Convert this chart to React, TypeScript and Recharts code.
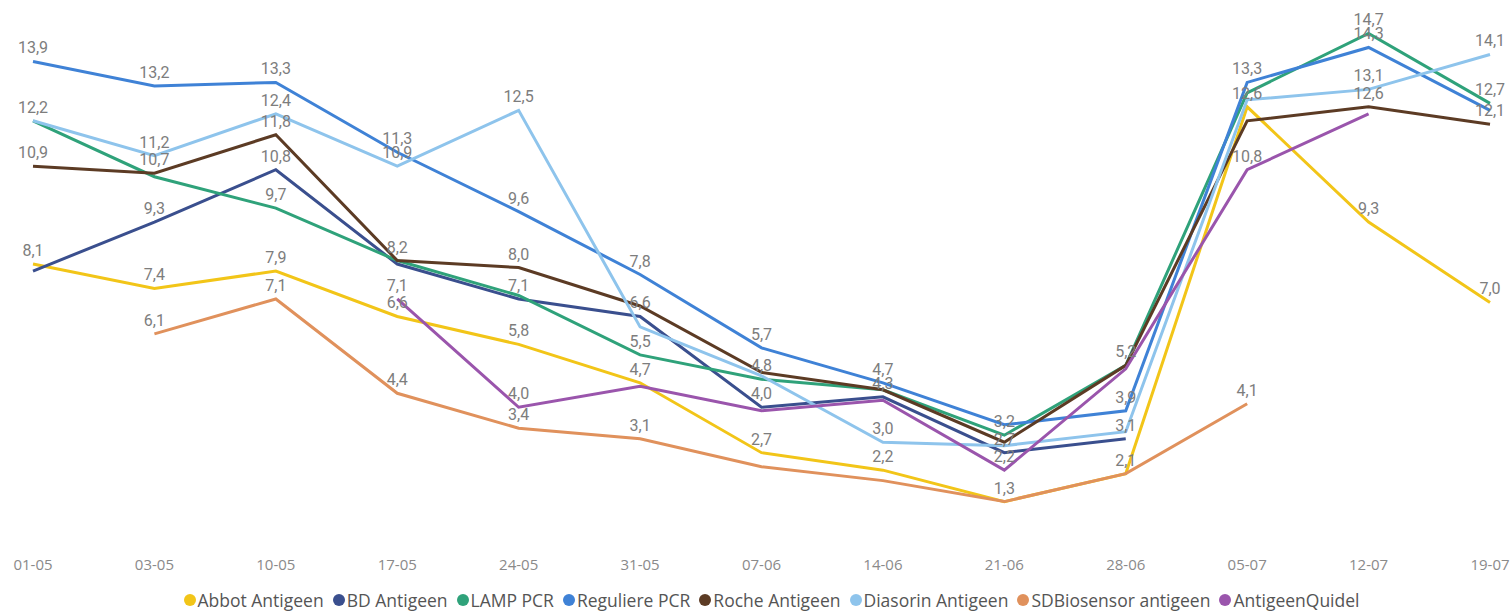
import { LabelList, Legend, Line, LineChart, XAxis, YAxis } from 'recharts';

const dates = ['01-05', '03-05', '10-05', '17-05', '24-05', '31-05', '07-06', '14-06', '21-06', '28-06', '05-07', '12-07', '19-07'];

const abbot = [8.1, 7.4, 7.9, 6.6, 5.8, 4.7, 2.7, 2.2, 1.3, 2.1, 12.6, 9.3, 7.0];
const bd = [7.9, 9.3, 10.8, 8.1, 7.1, 6.6, 4.0, 4.3, 2.7, 3.1, null, null, null];
const lamp = [12.2, 10.6, 9.7, 8.2, 7.2, 5.5, 4.8, 4.5, 3.2, 5.2, 13.0, 14.7, 12.7];
const reguliere = [13.9, 13.2, 13.3, 11.3, 9.6, 7.8, 5.7, 4.7, 3.5, 3.9, 13.3, 14.3, 12.5];
const roche = [10.9, 10.7, 11.8, 8.2, 8.0, 6.9, 5.0, 4.5, 3.0, 5.2, 12.2, 12.6, 12.1];
const diasorin = [12.2, 11.2, 12.4, 10.9, 12.5, 6.3, 4.9, 3.0, 2.9, 3.3, 12.8, 13.1, 14.1];
const sdBiosensor = [null, 6.1, 7.1, 4.4, 3.4, 3.1, 2.3, 1.9, 1.3, 2.1, 4.1, null, null];
const quidel = [null, null, null, 7.1, 4.0, 4.6, 3.9, 4.2, 2.2, 5.1, 10.8, 12.4, null];

// which points carry a data label (Power BI hides the overlapping ones)
const abbotLabels = [0, 1, 2, 3, 4, 5, 6, 7, 8, 9, 10, 11, 12];
const bdLabels = [1, 2, 4, 5, 6, 7, 8, 9];
const lampLabels = [0, 2, 5, 6, 8, 9, 11, 12];
const reguliereLabels = [0, 1, 2, 3, 4, 5, 6, 7, 9, 10, 11];
const rocheLabels = [0, 1, 2, 3, 4, 11, 12];
const diasorinLabels = [1, 2, 3, 4, 7, 11, 12];
const sdBiosensorLabels = [1, 2, 3, 4, 5, 10];
const quidelLabels = [3, 4, 8, 10];

const series = [
  { key: 'abbot', name: 'Abbot Antigeen', color: '#F2C518', values: abbot, labels: abbotLabels },
  { key: 'bd', name: 'BD Antigeen', color: '#3A4F8E', values: bd, labels: bdLabels },
  { key: 'lamp', name: 'LAMP PCR', color: '#2FA27A', values: lamp, labels: lampLabels },
  { key: 'reguliere', name: 'Reguliere PCR', color: '#3F82D6', values: reguliere, labels: reguliereLabels },
  { key: 'roche', name: 'Roche Antigeen', color: '#5C3B24', values: roche, labels: rocheLabels },
  { key: 'diasorin', name: 'Diasorin Antigeen', color: '#8EC4EC', values: diasorin, labels: diasorinLabels },
  { key: 'sdBiosensor', name: 'SDBiosensor antigeen', color: '#E0915C', values: sdBiosensor, labels: sdBiosensorLabels },
  { key: 'quidel', name: 'AntigeenQuidel', color: '#9A55AC', values: quidel, labels: quidelLabels },
];

const rows = dates.map((date, i) => {
  const row: Record<string, string | number | null> = { date };
  series.forEach((s) => {
    row[s.key] = s.values[i];
  });
  return row;
});

const fmt = (v: number) => v.toFixed(1).replace('.', ',');

function labelRenderer(shown: number[]) {
  return (props: any) => {
    const { x, y, value, index } = props;
    if (value == null || !shown.includes(index)) return null;
    return (
      <text
        x={x}
        y={y - 8}
        textAnchor="middle"
        fill="#7d7d7d"
        fontSize={16}
        fontFamily="Roboto, sans-serif"
      >
        {fmt(value)}
      </text>
    );
  };
}

function LegendRow() {
  return (
    <div
      style={{
        display: 'flex',
        justifyContent: 'center',
        alignItems: 'center',
        gap: 9,
        fontFamily: '"Open Sans", sans-serif',
        fontSize: 17.5,
        lineHeight: '22px',
        color: '#555',
        paddingLeft: 20,
      }}
    >
      {series.map((s) => (
        <span key={s.key} style={{ display: 'flex', alignItems: 'center' }}>
          <span
            style={{
              width: 12,
              height: 12,
              borderRadius: '50%',
              background: s.color,
              marginRight: 2,
              display: 'inline-block',
            }}
          />
          {s.name}
        </span>
      ))}
    </div>
  );
}

export default function App() {
  return (
    <div style={{ position: 'absolute', left: 0, top: 0, background: '#fff' }}>
      <LineChart
        width={1512}
        height={615}
        data={rows}
        margin={{ top: 23, right: 22, left: 33, bottom: 4 }}
      >
        <XAxis
          dataKey="date"
          axisLine={false}
          tickLine={false}
          tickMargin={6}
          height={42}
          interval={0}
          tick={{ fill: '#8a8a8a', fontSize: 15, fontFamily: '"Open Sans", sans-serif' }}
        />
        <YAxis hide domain={[0, 15]} />
        <Legend verticalAlign="bottom" height={22} content={() => <LegendRow />} />
        {series.map((s) => (
          <Line
            key={s.key}
            type="linear"
            dataKey={s.key}
            name={s.name}
            stroke={s.color}
            strokeWidth={3}
            dot={false}
            activeDot={false}
            isAnimationActive={false}
          >
            <LabelList dataKey={s.key} content={labelRenderer(s.labels)} />
          </Line>
        ))}
      </LineChart>
    </div>
  );
}
